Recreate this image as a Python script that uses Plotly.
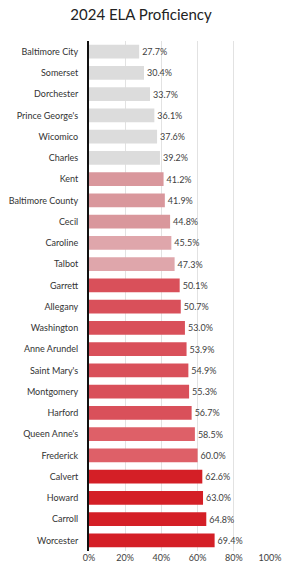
import plotly.graph_objects as go

counties = ["Baltimore City", "Somerset", "Dorchester", "Prince George's", "Wicomico",
            "Charles", "Kent", "Baltimore County", "Cecil", "Caroline", "Talbot",
            "Garrett", "Allegany", "Washington", "Anne Arundel", "Saint Mary's",
            "Montgomery", "Harford", "Queen Anne's", "Frederick", "Calvert",
            "Howard", "Carroll", "Worcester"]
proficiency = [27.7, 30.4, 33.7, 36.1, 37.6, 39.2, 41.2, 41.9, 44.8, 45.5, 47.3,
               50.1, 50.7, 53.0, 53.9, 54.9, 55.3, 56.7, 58.5, 60.0, 62.6, 63.0, 64.8, 69.4]
colors = (["#dcdcdc"] * 6 + ["#d9979c"] * 3 + ["#dfa6ab"] * 2 + ["#d9505a"] * 7
          + ["#de6068"] * 2 + ["#d41f26"] * 4)
tick_vals = [0, 20, 40, 60, 80, 100]
tick_text = ["0%", "20%", "40%", "60%", "80%", "100%"]

fig = go.Figure(go.Bar(
    y=counties, x=proficiency, orientation="h",
    marker=dict(color=colors, line=dict(width=0)),
    text=[f"{v:.1f}%" for v in proficiency],
    textposition="outside", cliponaxis=False,
    textfont=dict(size=9, color="#404040"),
))

fig.update_layout(
    width=282, height=574,
    margin=dict(l=89, r=12, t=41, b=23),
    paper_bgcolor="white", plot_bgcolor="white",
    font=dict(family="Lato, Liberation Sans, sans-serif", color="#404040", size=9),
    title=dict(text="2024 ELA Proficiency", x=0.5, xanchor="center", y=0.974, yanchor="middle",
               xref="container", yref="container",
               font=dict(size=15, color="#222222", family="Lato, Liberation Sans, sans-serif")),
    bargap=0.36,
    showlegend=False,
)
fig.update_xaxes(range=[0, 100], tickvals=tick_vals, ticktext=tick_text,
                 showgrid=True, gridcolor="#e2e2e2", gridwidth=1, zeroline=False,
                 tickfont=dict(size=9, color="#404040"), ticks="", fixedrange=True,
                 ticklabeloverflow="allow", automargin=False)
fig.update_yaxes(autorange="reversed", showline=True, linecolor="#111111", linewidth=2,
                 ticks="", ticklabelstandoff=7, tickfont=dict(size=9, color="#333333"),
                 fixedrange=True, automargin=False)

fig.write_html("out.html", config={"displayModeBar": False},
               post_script="document.body.style.margin='0';document.body.style.overflow='hidden';")
